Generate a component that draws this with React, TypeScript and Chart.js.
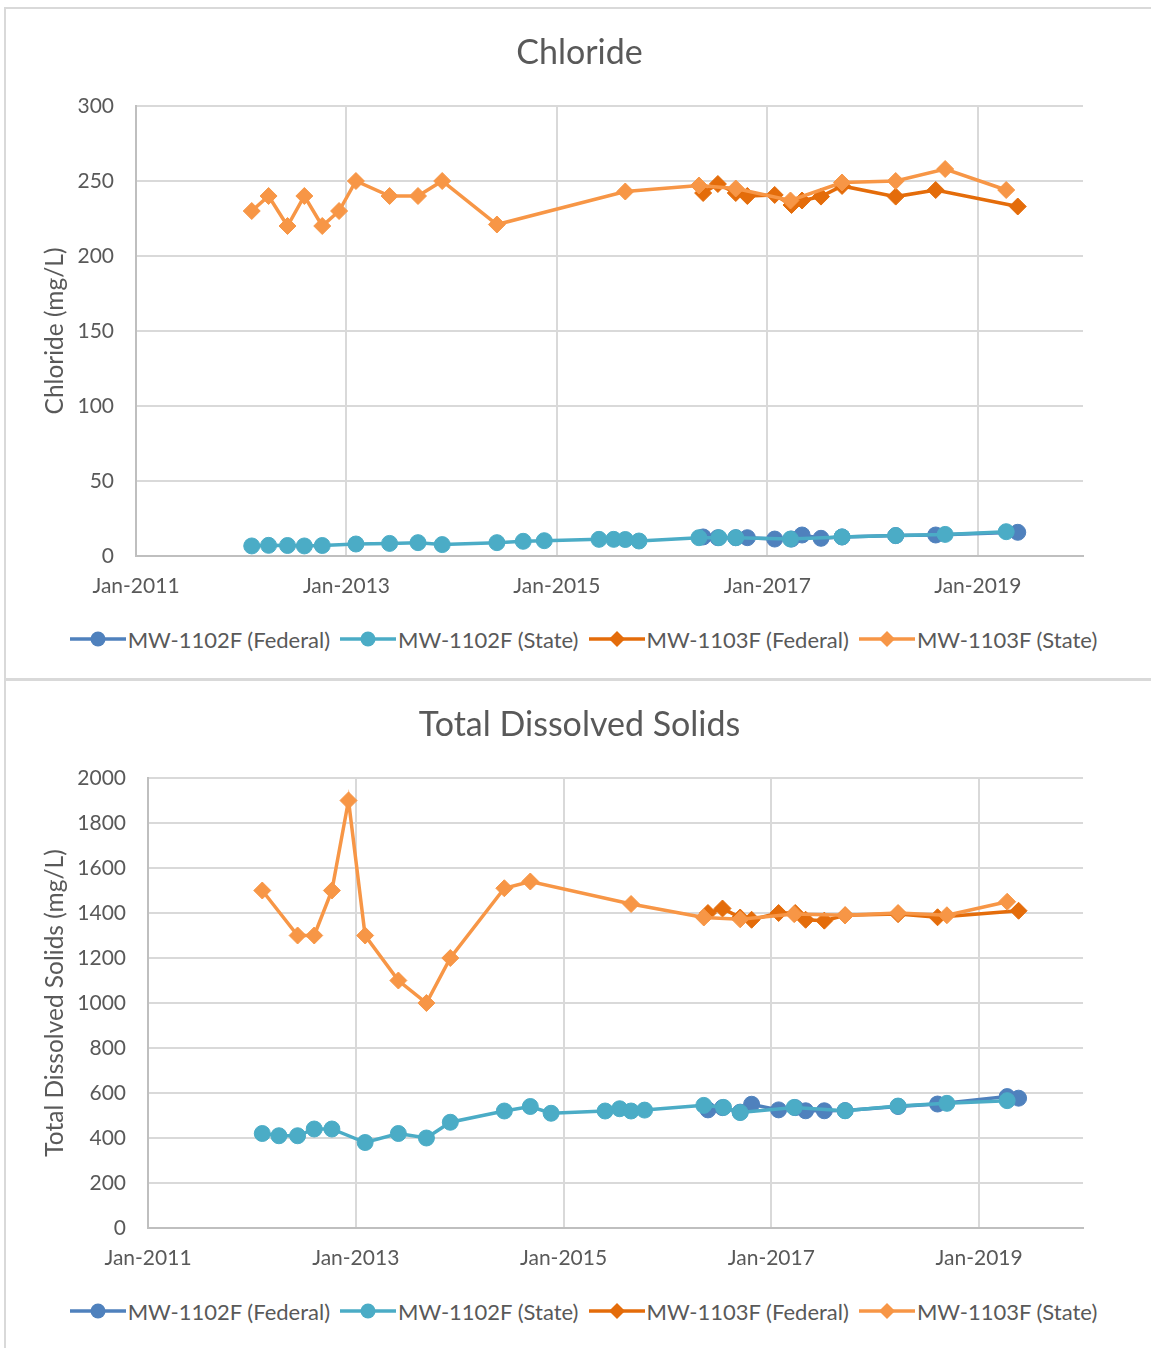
import React, { useEffect, useRef } from 'react';
import { Chart, registerables } from 'chart.js';

Chart.register(...registerables);

const FONT_FAMILY = 'Lato, Carlito, "Liberation Sans", sans-serif';
const TEXT_COLOR = '#595959';

// ---------- shared axis data ----------
const xMin = 2011;
const xMax = 2020;
const xTickValues = [2011, 2013, 2015, 2017, 2019];
const xTickLabels = ['Jan-2011', 'Jan-2013', 'Jan-2015', 'Jan-2017', 'Jan-2019'];

const seriesNames = ['MW-1102F (Federal)', 'MW-1102F (State)', 'MW-1103F (Federal)', 'MW-1103F (State)'];
const seriesColors = ['#4F81BD', '#4BACC6', '#E46C0A', '#F79646'];
const seriesMarkers = ['circle', 'circle', 'rectRot', 'rectRot'];

// sampling dates as decimal years
const stateDates = [
  2012.10, 2012.26, 2012.44, 2012.60, 2012.77, 2012.93, 2013.09, 2013.41, 2013.68, 2013.91,
  2014.43, 2014.68, 2014.88, 2015.40, 2015.54, 2015.65, 2015.78, 2016.35, 2016.54, 2016.70,
  2017.22, 2017.71, 2018.22, 2018.69, 2019.27,
];
const federalDates = [
  2016.39, 2016.53, 2016.70, 2016.81, 2017.07, 2017.23, 2017.33, 2017.51, 2017.71, 2018.22,
  2018.60, 2019.27, 2019.38,
];

// ---------- Chloride (mg/L) ----------
const chlorideYTicks = [0, 50, 100, 150, 200, 250, 300];
const chloride1102Federal = [12.7, 12.2, 12.2, 12.2, 11.3, 11.3, 14, 11.8, 12.7, 13.6, 14, null, 15.8];
const chloride1102State = [
  6.7, 7.1, 7, 6.7, 7, null, 8, 8.4, 8.9, 7.6,
  8.9, 9.8, 10.2, 11.1, 11.1, 11, 10, 12.2, 12.2, 12.2,
  11.3, 12.7, 13.6, 14.4, 16.2,
];
const chloride1103Federal = [242, 248, 242, 240, 240.7, 234, 237, 239.6, 246.7, 239.6, 244, null, 233];
const chloride1103State = [
  230, 240, 220, 240, 220, 230, 250, 240, 240, 250,
  221, null, null, null, null, 243, null, 247, null, 245,
  237, 249, 250, 258, 244,
];

// ---------- Total Dissolved Solids (mg/L) ----------
const tdsYTicks = [0, 200, 400, 600, 800, 1000, 1200, 1400, 1600, 1800, 2000];
const tds1102Federal = [525, 535, 515, 550, 525, 535, 521, 521, 522, 540, 551, 584, 577];
const tds1102State = [
  420, 410, 410, 440, 440, null, 380, 420, 400, 470,
  520, 540, 510, 520, 530, 520, 524, 545, 536, 513,
  536, 521, 542, 554, 566,
];
const tds1103Federal = [1400, 1420, 1380, 1370, 1400, 1400, 1370, 1366, 1390, 1395, 1381, null, 1410];
const tds1103State = [
  1500, null, 1300, 1300, 1500, 1900, 1300, 1100, 1000, 1200,
  1510, 1540, null, null, null, 1440, null, 1380, null, 1372,
  1395, 1390, 1400, 1390, 1450,
];

// ---------- layout ----------
const CANVAS_W = 1151;
const CANVAS_H = 620;
const PLOT_TOP = 106;
const PLOT_BOTTOM = 556;
const PLOT_RIGHT = 1083;
const TITLE_X = 579.5;
const TITLE_Y = 53;
const TICK_FONT = 21;
const TITLE_FONT = 34;
const AXIS_TITLE_FONT = 24.5;
const LEGEND_FONT = 22;

const titlePlugin = {
  id: 'centerTitle',
  afterDraw(chart: any, _args: any, opts: any) {
    const ctx = chart.ctx;
    ctx.save();
    ctx.font = `${TITLE_FONT}px ${FONT_FAMILY}`;
    ctx.fillStyle = TEXT_COLOR;
    ctx.textAlign = 'center';
    ctx.textBaseline = 'middle';
    ctx.fillText(opts.text, TITLE_X, TITLE_Y);
    ctx.restore();
  },
};

type Props = {
  title: string;
  yTitle: string;
  yTicks: number[];
  values: (number | null)[][];
  plotLeft: number;
  top: number;
};

function LegendSymbol({ color, marker }: { color: string; marker: string }) {
  return (
    <svg width={56} height={20} style={{ display: 'block' }}>
      <line x1={0} y1={10} x2={56} y2={10} stroke={color} strokeWidth={3.5} />
      {marker === 'circle' ? (
        <circle cx={28} cy={10} r={7.5} fill={color} />
      ) : (
        <polygon points="28,2 36,10 28,18 20,10" fill={color} />
      )}
    </svg>
  );
}

function LineChart({ title, yTitle, yTicks, values, plotLeft, top }: Props) {
  const ref = useRef<HTMLCanvasElement | null>(null);

  useEffect(() => {
    if (!ref.current) return;
    const dateSets = [federalDates, stateDates, federalDates, stateDates];
    const orders = [4, 3, 2, 1];
    const datasets = values.map((vals, i) => ({
      label: seriesNames[i],
      data: dateSets[i]
        .map((d, j) => ({ x: d, y: vals[j] }))
        .filter((p) => p.y !== null && p.y !== undefined),
      borderColor: seriesColors[i],
      backgroundColor: seriesColors[i],
      pointBackgroundColor: seriesColors[i],
      pointBorderColor: seriesColors[i],
      pointBorderWidth: 1,
      pointStyle: seriesMarkers[i],
      pointRadius: seriesMarkers[i] === 'circle' ? 8 : 8.5,
      borderWidth: 3.5,
      tension: 0,
      fill: false,
      order: orders[i],
    }));
    const axisTitleLineHeight = AXIS_TITLE_FONT * 1.2;
    const chart = new Chart(ref.current, {
      type: 'line',
      data: { datasets },
      plugins: [titlePlugin],
      options: {
        animation: false,
        responsive: false,
        maintainAspectRatio: false,
        devicePixelRatio: 1,
        layout: { padding: { left: 0, right: CANVAS_W - PLOT_RIGHT, top: PLOT_TOP, bottom: 0 } },
        plugins: {
          legend: { display: false },
          tooltip: { enabled: false },
          centerTitle: { text: title },
        } as any,
        scales: {
          x: {
            type: 'linear',
            min: xMin,
            max: xMax,
            afterBuildTicks: (axis: any) => {
              axis.ticks = xTickValues.map((v) => ({ value: v }));
            },
            afterFit: (axis: any) => {
              axis.height = CANVAS_H - PLOT_BOTTOM;
            },
            ticks: {
              autoSkip: false,
              maxRotation: 0,
              padding: 18,
              color: TEXT_COLOR,
              font: { family: FONT_FAMILY, size: TICK_FONT },
              callback: (v: any) => {
                const i = xTickValues.indexOf(Number(v));
                return i >= 0 ? xTickLabels[i] : '';
              },
            },
            grid: { color: '#D9D9D9', lineWidth: 2, drawTicks: false },
            border: { color: '#BFBFBF', width: 2 },
          },
          y: {
            type: 'linear',
            min: yTicks[0],
            max: yTicks[yTicks.length - 1],
            afterBuildTicks: (axis: any) => {
              axis.ticks = yTicks.map((v) => ({ value: v }));
            },
            afterFit: (axis: any) => {
              axis.width = plotLeft;
            },
            ticks: {
              padding: 22,
              color: TEXT_COLOR,
              font: { family: FONT_FAMILY, size: TICK_FONT },
              callback: (v: any) => String(v),
            },
            grid: { color: '#D9D9D9', lineWidth: 2, drawTicks: false },
            border: { color: '#BFBFBF', width: 2 },
            title: {
              display: true,
              text: yTitle,
              color: TEXT_COLOR,
              font: { family: FONT_FAMILY, size: AXIS_TITLE_FONT },
              padding: { top: 55 - axisTitleLineHeight / 2, bottom: 0 },
            },
          },
        },
      } as any,
    });
    return () => chart.destroy();
  }, [title, yTitle, yTicks, values, plotLeft]);

  return (
    <>
      <canvas
        ref={ref}
        width={CANVAS_W}
        height={CANVAS_H}
        style={{ position: 'absolute', left: 0, top, width: CANVAS_W, height: CANVAS_H }}
      />
      <div
        style={{
          position: 'absolute',
          left: 0,
          top: top + 624,
          width: 1167,
          height: 30,
          display: 'flex',
          justifyContent: 'center',
          alignItems: 'center',
          fontFamily: FONT_FAMILY,
          fontSize: LEGEND_FONT,
          color: TEXT_COLOR,
          whiteSpace: 'nowrap',
        }}
      >
        {seriesNames.map((name, i) => (
          <div key={name} style={{ display: 'flex', alignItems: 'center', marginLeft: i === 0 ? 0 : 10 }}>
            <LegendSymbol color={seriesColors[i]} marker={seriesMarkers[i]} />
            <span style={{ marginLeft: 2 }}>{name}</span>
          </div>
        ))}
      </div>
    </>
  );
}

export default function App() {
  return (
    <div style={{ position: 'absolute', left: 0, top: 0, width: 1151, height: 1348, overflow: 'hidden', background: '#fff' }}>
      <div
        style={{
          position: 'absolute', left: 4, top: 7, width: 1160, height: 674,
          border: '2px solid #D9D9D9', boxSizing: 'border-box',
        }}
      />
      <div
        style={{
          position: 'absolute', left: 4, top: 678, width: 1160, height: 700,
          border: '2px solid #D9D9D9', boxSizing: 'border-box',
        }}
      />
      <LineChart
        title="Chloride"
        yTitle="Chloride (mg/L)"
        yTicks={chlorideYTicks}
        values={[chloride1102Federal, chloride1102State, chloride1103Federal, chloride1103State]}
        plotLeft={136}
        top={0}
      />
      <LineChart
        title="Total Dissolved Solids"
        yTitle="Total Dissolved Solids (mg/L)"
        yTicks={tdsYTicks}
        values={[tds1102Federal, tds1102State, tds1103Federal, tds1103State]}
        plotLeft={148}
        top={672}
      />
    </div>
  );
}
